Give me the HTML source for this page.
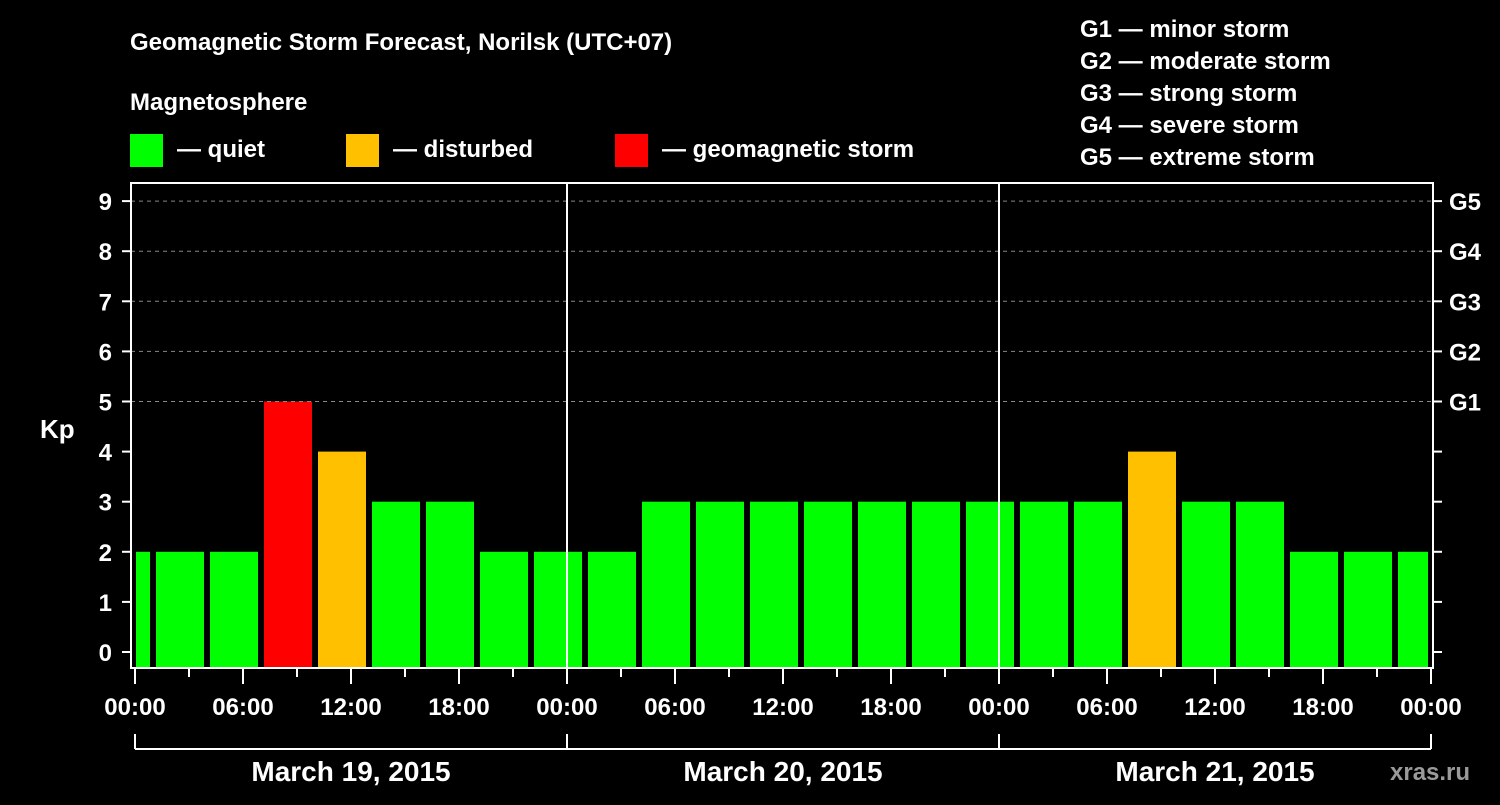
<!DOCTYPE html>
<html><head><meta charset="utf-8"><style>
body{margin:0;background:#000;width:1500px;height:800px;overflow:hidden}
svg text{font-family:"Liberation Sans",sans-serif;font-weight:bold;fill:#fff}
</style></head><body>
<svg id="c" width="1500" height="800">
<text x="130" y="50" font-size="24">Geomagnetic Storm Forecast, Norilsk (UTC+07)</text>
<text x="130" y="110" font-size="24">Magnetosphere</text>
<g><rect x="130" y="134" width="33" height="33" fill="#00ff00"/><text x="177" y="157" font-size="24">— quiet</text></g>
<g><rect x="346" y="134" width="33" height="33" fill="#ffc000"/><text x="393" y="157" font-size="24">— disturbed</text></g>
<g><rect x="615" y="134" width="33" height="33" fill="#ff0000"/><text x="662" y="157" font-size="24">— geomagnetic storm</text></g>
<g font-size="24">
<text x="1080" y="37">G1 — minor storm</text><text x="1080" y="69">G2 — moderate storm</text><text x="1080" y="101">G3 — strong storm</text><text x="1080" y="133">G4 — severe storm</text><text x="1080" y="165">G5 — extreme storm</text></g>
<text x="40" y="438" font-size="26">Kp</text>
<text x="1390" y="780" font-size="24" fill="#aaa" style="fill:#9a9a9a">xras.ru</text>
<g id="g"></g>
</svg>
<script>
const values=[2,2,2,5,4,3,3,2,2,2,3,3,3,3,3,3,3,3,3,4,3,3,2,2,2];
const yTicks=[0,1,2,3,4,5,6,7,8,9];
const gLabels=["G1","G2","G3","G4","G5"];
const xLabels=["00:00","06:00","12:00","18:00","00:00","06:00","12:00","18:00","00:00","06:00","12:00","18:00","00:00"];
const days=["March 19, 2015","March 20, 2015","March 21, 2015"];
const x0=135,pxH=18,y0=652,pxK=50.1,L=131,R=1433,T=183,B=668;
const X=h=>x0+h*pxH, Y=k=>y0-k*pxK;
const g=document.getElementById('g'),NS='http://www.w3.org/2000/svg';
function mk(t,a,p){const e=document.createElementNS(NS,t);for(const k in a)e.setAttribute(k,a[k]);(p||g).appendChild(e);return e;}
values.forEach((v,i)=>{
 let s=X(-2+3*i)+3,e=X(1+3*i)-3;s=Math.max(s,x0+1);e=Math.min(e,X(72)-3);
 const col=v>=5?'#ff0000':v>=4?'#ffc000':'#00ff00';
 const r=mk('rect',{x:s,y:Y(v),width:e-s,height:B-Y(v),fill:col});
 
 
});
[5,6,7,8,9].forEach(k=>{const l=mk('line',{x1:L,x2:R,y1:Y(k),y2:Y(k),stroke:'#888','stroke-dasharray':'4,4','stroke-width':1});
 
 });
[24,48].forEach(h=>{const l=mk('line',{x1:X(h),x2:X(h),y1:T,y2:B,stroke:'#fff','stroke-width':2});
 
 });
const fr=mk('rect',{x:L,y:T,width:R-L,height:B-T,fill:'none',stroke:'#fff','stroke-width':2});


yTicks.forEach(k=>{mk('line',{x1:L-9,x2:L,y1:Y(k),y2:Y(k),stroke:'#fff','stroke-width':2});
 mk('line',{x1:R,x2:R+9,y1:Y(k),y2:Y(k),stroke:'#fff','stroke-width':2});
 const t=mk('text',{x:112,y:Y(k)+9,'font-size':24,'text-anchor':'end'});t.textContent=k;
 
 });
gLabels.forEach((s,i)=>{const t=mk('text',{x:1449,y:Y(5+i)+9,'font-size':24});t.textContent=s;
 
 });
for(let h=0;h<=72;h+=3){mk('line',{x1:X(h),x2:X(h),y1:B,y2:h%6?B+9:B+16,stroke:'#fff','stroke-width':2});}
xLabels.forEach((s,i)=>{const t=mk('text',{x:X(i*6),y:715,'font-size':24,'text-anchor':'middle'});t.textContent=s;
 
 });
mk('line',{x1:X(0),x2:X(72),y1:749,y2:749,stroke:'#fff','stroke-width':2});
[0,24,48,72].forEach(h=>mk('line',{x1:X(h),x2:X(h),y1:734,y2:749,stroke:'#fff','stroke-width':2}));
days.forEach((s,i)=>{const t=mk('text',{x:X(12+24*i),y:781,'font-size':28,'text-anchor':'middle'});t.textContent=s;
 
 });
</script>
</body></html>
